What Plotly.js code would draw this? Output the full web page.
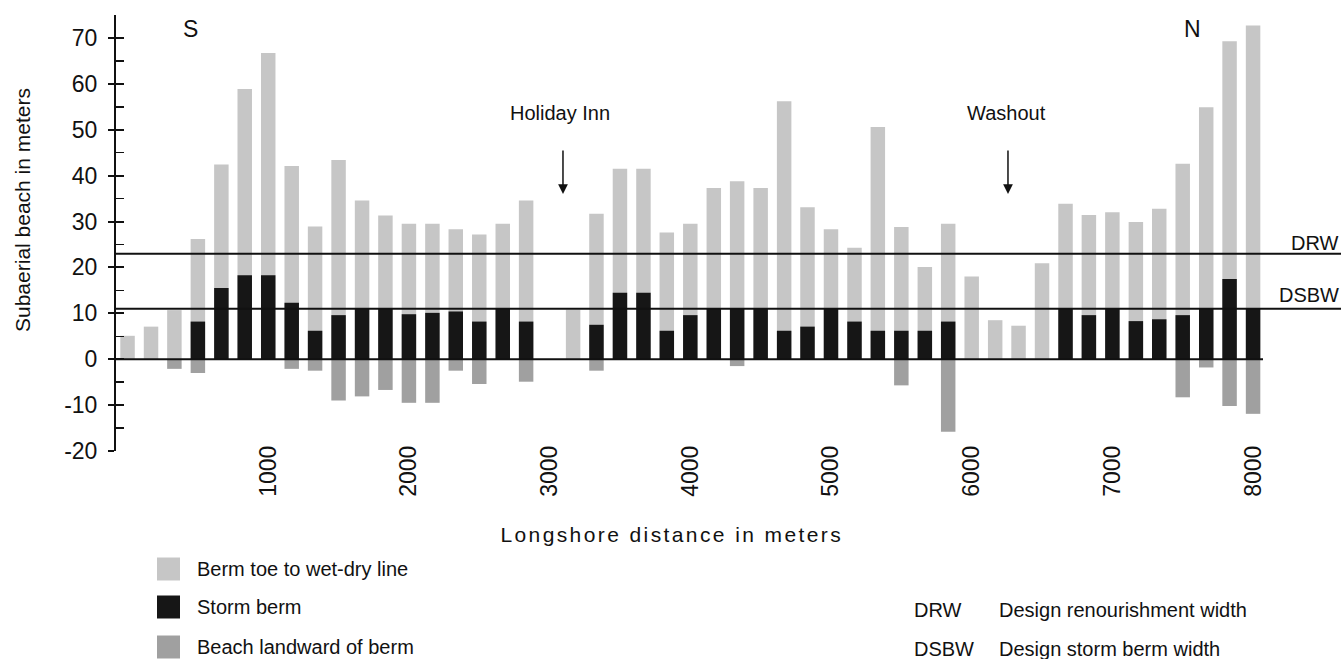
<!DOCTYPE html>
<html>
<head>
<meta charset="utf-8">
<script src="https://cdn.plot.ly/plotly-3.0.1.min.js"></script>
<style>
  html, body { margin: 0; padding: 0; background: #fff; }
  #chart { width: 1341px; height: 659px; }
  .annotation[data-index="1"] .annotation-text { letter-spacing: 2.4px; }
</style>
</head>
<body>
<div id="chart"></div>
<script>
// Longshore positions (m) of the survey profiles
const positions = [0,167,333,500,667,833,1000,1167,1333,1500,1667,1833,2000,2167,2333,2500,2667,2833,
  3167,3333,3500,3667,3833,4000,4167,4333,4500,4667,4833,5000,5167,5333,5500,5667,5833,6000,
  6167,6333,6500,6667,6833,7000,7167,7333,7500,7667,7833,8000];
// Top of "berm toe to wet-dry line" (total subaerial width above 0), m
const wetDryTop = [5.1,7.1,10.7,26.2,42.4,58.9,66.7,42.1,28.9,43.4,34.6,31.3,29.5,29.5,28.3,27.2,29.5,34.6,
  10.8,31.7,41.5,41.5,27.6,29.5,37.3,38.8,37.3,56.2,33.1,28.3,24.3,50.6,28.8,20.1,29.5,18.0,
  8.5,7.3,20.9,33.9,31.4,32.0,29.9,32.8,42.6,54.9,69.3,72.7];
// Storm berm width, m
const stormBerm = [0,0,0,8.2,15.5,18.3,18.3,12.3,6.2,9.6,11,11,9.8,10.1,10.4,8.2,11,8.2,
  0,7.5,14.5,14.5,6.2,9.6,11,11,11,6.2,7.1,11,8.2,6.2,6.2,6.2,8.2,0,
  0,0,0,11,9.6,11,8.3,8.7,9.6,11,17.5,11];
// Beach landward of berm (negative), m
const landward = [0,0,-2.1,-3.0,0,0,0,-2.1,-2.5,-9.0,-8.1,-6.7,-9.5,-9.5,-2.5,-5.4,0,-4.9,
  0,-2.5,0,0,0,0,0,-1.5,0,0,0,0,0,0,-5.7,0,-15.8,0,
  0,0,0,0,0,0,0,0,-8.3,-1.8,-10.2,-11.9];

const xTickVals = [1000,2000,3000,4000,5000,6000,7000,8000];
const yTickVals = [-20,-10,0,10,20,30,40,50,60,70];
const designWidths = {DRW: 23, DSBW: 11};
const seriesNames = ['Berm toe to wet-dry line', 'Storm berm', 'Beach landward of berm'];
const legendAbbrev = [['DRW', 'Design renourishment width'], ['DSBW', 'Design storm berm width']];

const FONT = 'Liberation Sans, Arial, Helvetica, sans-serif';
const colLight = '#c6c6c6', colStorm = '#161616', colLand = '#a0a0a0';

const traces = [
  {type: 'bar', x: positions, y: wetDryTop, name: seriesNames[0], marker: {color: colLight}, showlegend: false, hoverinfo: 'x+y+name'},
  {type: 'bar', x: positions, y: stormBerm, name: seriesNames[1], marker: {color: colStorm}, showlegend: false, hoverinfo: 'x+y+name'},
  {type: 'bar', x: positions, y: landward, name: seriesNames[2], marker: {color: colLand}, showlegend: false, hoverinfo: 'x+y+name'},
  {type: 'scatter', x: [], y: [], yaxis: 'y2', showlegend: false, hoverinfo: 'skip'}
];

// helper: pixel -> paper (plot area: left 116, width 1225, bottom 451, height 436)
const L = 116, W = 1225, B = 451, H = 436;
const px = v => (v - L) / W;
const py = v => (B - v) / H;

const shapes = [
  {type: 'line', xref: 'paper', yref: 'y', x0: 0, x1: 1, y0: designWidths.DRW, y1: designWidths.DRW, line: {color: '#111', width: 2}, layer: 'above'},
  {type: 'line', xref: 'paper', yref: 'y', x0: 0, x1: 1, y0: designWidths.DSBW, y1: designWidths.DSBW, line: {color: '#111', width: 2}, layer: 'above'},
  {type: 'line', xref: 'paper', yref: 'y', x0: 0, x1: px(1263), y0: 0, y1: 0, line: {color: '#111', width: 2}, layer: 'above'}
];

const rowY = [569, 607, 647];
const legCols = [colLight, colStorm, colLand];
for (let i = 0; i < 3; i++) {
  shapes.push({type: 'rect', xref: 'paper', yref: 'paper', x0: px(157), x1: px(180), y0: py(rowY[i] + 11.5), y1: py(rowY[i] - 11.5),
    fillcolor: legCols[i], line: {width: 0}});
}

const annotations = [
  {xref: 'paper', yref: 'paper', x: px(22), y: py(210), text: 'Subaerial beach in meters', textangle: -90, showarrow: false,
    font: {size: 21, family: FONT, color: '#111'}, xanchor: 'center', yanchor: 'middle'},
  {xref: 'paper', yref: 'paper', x: px(672), y: py(534), text: 'Longshore distance in meters', showarrow: false,
    font: {size: 21, family: FONT, color: '#111'}, xanchor: 'center', yanchor: 'middle'},
  {xref: 'x', yref: 'y', x: 444, y: 72, text: 'S', showarrow: false, font: {size: 23, family: FONT, color: '#111'}},
  {xref: 'x', yref: 'y', x: 7566, y: 72, text: 'N', showarrow: false, font: {size: 23, family: FONT, color: '#111'}},
  {xref: 'x', yref: 'y', x: 3074, y: 53.6, text: 'Holiday Inn', showarrow: false, font: {size: 20, family: FONT, color: '#111'}},
  {xref: 'x', yref: 'y', x: 6244, y: 53.6, text: 'Washout', showarrow: false, font: {size: 20, family: FONT, color: '#111'}},
  {xref: 'x', yref: 'y', x: 3095, y: 36.0, ax: 0, ay: -45, text: '', showarrow: true, arrowhead: 2, arrowsize: 1.3, arrowwidth: 1.5, arrowcolor: '#111'},
  {xref: 'x', yref: 'y', x: 6258, y: 36.0, ax: 0, ay: -45, text: '', showarrow: true, arrowhead: 2, arrowsize: 1.3, arrowwidth: 1.5, arrowcolor: '#111'},
  {xref: 'paper', yref: 'y', x: 1.0, y: 25.4, text: 'DRW', showarrow: false, xanchor: 'right', font: {size: 20, family: FONT, color: '#111'}},
  {xref: 'paper', yref: 'y', x: 1.0, y: 13.9, text: 'DSBW', showarrow: false, xanchor: 'right', font: {size: 20, family: FONT, color: '#111'}}
];
for (let i = 0; i < 3; i++) {
  annotations.push({xref: 'paper', yref: 'paper', x: px(195), y: py(rowY[i]), text: seriesNames[i], showarrow: false,
    xanchor: 'left', yanchor: 'middle', font: {size: 20, family: FONT, color: '#111'}});
}
const abbrevRow = [610, 649];
for (let i = 0; i < 2; i++) {
  annotations.push({xref: 'paper', yref: 'paper', x: px(912), y: py(abbrevRow[i]), text: legendAbbrev[i][0], showarrow: false,
    xanchor: 'left', yanchor: 'middle', font: {size: 20, family: FONT, color: '#111'}});
  annotations.push({xref: 'paper', yref: 'paper', x: px(997), y: py(abbrevRow[i]), text: legendAbbrev[i][1], showarrow: false,
    xanchor: 'left', yanchor: 'middle', font: {size: 20, family: FONT, color: '#111'}});
}

const layout = {
  width: 1341, height: 659,
  margin: {l: L, r: 1341 - L - W, t: 15, b: 659 - B, pad: 0},
  paper_bgcolor: '#fff', plot_bgcolor: '#fff',
  barmode: 'overlay', bargap: 0.38,
  font: {family: FONT, color: '#111'},
  xaxis: {
    range: [-82, 8625], showgrid: false, zeroline: false, showline: false,
    tickmode: 'array', tickvals: xTickVals, ticktext: xTickVals.map(String),
    tickangle: -90, ticks: '', tickfont: {size: 23, family: FONT, color: '#111'},
    anchor: 'free', position: 0.025
  },
  yaxis: {
    range: [-20, 75], showgrid: false, zeroline: false, showline: true, linecolor: '#111', linewidth: 2,
    tickmode: 'array', tickvals: yTickVals, ticktext: yTickVals.map(String),
    ticks: 'outside', ticklen: 6, tickwidth: 2, tickcolor: '#111',
    tickfont: {size: 23, family: FONT, color: '#111'}, ticklabelstandoff: 6
  },
  yaxis2: {
    range: [-20, 75], overlaying: 'y', side: 'left', anchor: 'x', showgrid: false, zeroline: false, showline: false,
    tickmode: 'array', tickvals: yTickVals, ticks: 'inside', ticklen: 8, tickwidth: 2, tickcolor: '#111', showticklabels: false,
    minor: {dtick: 5, tick0: 0, ticks: 'inside', ticklen: 8, tickwidth: 1.5, tickcolor: '#111', showgrid: false}
  },
  shapes: shapes,
  annotations: annotations,
  showlegend: false
};

Plotly.newPlot('chart', traces, layout, {displayModeBar: false, staticPlot: true});
</script>
</body>
</html>
